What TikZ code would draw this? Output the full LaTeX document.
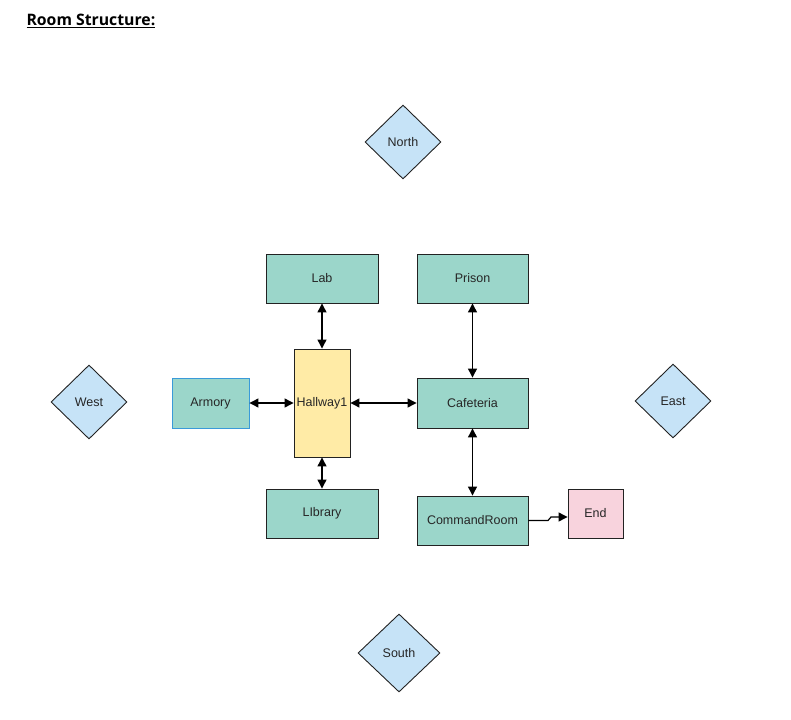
\documentclass[tikz,border=0pt]{standalone}
\usepackage{fontspec}
\setmainfont{Liberation Sans}
\newfontfamily\titlefont{Open Sans}
\usetikzlibrary{arrows.meta,shapes.geometric}
\definecolor{teal}{HTML}{9BD6CA}
\definecolor{yel}{HTML}{FFEBA6}
\definecolor{pinkc}{HTML}{F8D3DD}
\definecolor{skyc}{HTML}{C6E3F7}
\definecolor{bluec}{HTML}{3A9AD9}
\definecolor{edgec}{HTML}{222222}
\begin{document}
\begin{tikzpicture}[x=1pt,y=-1pt,
  room/.style={draw=edgec,line width=0.9pt,fill=teal,minimum width=112pt,minimum height=49pt,inner sep=0pt,font=\fontsize{12.5}{14}\selectfont,text=black!85},
  dir/.style={diamond,draw=edgec,line width=0.9pt,fill=skyc,minimum width=76pt,minimum height=74pt,inner sep=0pt,font=\fontsize{12.5}{14}\selectfont,text=black!85},
  link/.style={line width=1.2pt,{Triangle[width=9pt,length=9pt]}-{Triangle[width=9pt,length=9pt]}},
  onelink/.style={line width=1.2pt,-{Triangle[width=9pt,length=9pt]}}]
\useasboundingbox (0,0) rectangle (791,719);
\node[anchor=west,font=\titlefont\bfseries\fontsize{15.8}{17}\selectfont] (title) at (23,21) {\underline{Room Structure:}};
\node[dir] (north) at (403,142) {North};
\node[dir] (west) at (89,402) {West};
\node[dir] (east) at (673,401) {East};
\node[dir,minimum width=82pt,minimum height=78pt] (south) at (399,653) {South};
\node[room] (lab) at (322,278.5) {Lab};
\node[room,minimum width=111pt] (prison) at (472.5,278.5) {Prison};
\node[room,draw=bluec,minimum width=77pt,minimum height=50pt] (armory) at (210.5,403) {Armory};
\node[room,fill=yel,minimum width=56pt,minimum height=108pt] (hall) at (322,403) {Hallway1};
\node[room,minimum width=111pt,minimum height=50pt] (cafe) at (472.5,403) {Cafeteria};
\node[room] (lib) at (322,513.5) {LIbrary};
\node[room,minimum width=111pt] (cmd) at (472.5,520.5) {CommandRoom};
\node[room,fill=pinkc,minimum width=55pt] (endn) at (595.5,513.5) {End};
\draw[link] (lab) -- (hall);
\draw[link] (hall) -- (lib);
\draw[link] (armory) -- (hall);
\draw[link] (hall) -- (cafe);
\draw[link] (prison) -- (cafe);
\draw[link] (cafe) -- (cmd);
\coordinate (c1) at (548,520.5);
\coordinate (c2) at (551,517);
\draw[onelink] (cmd.east |- c1) -- (c1) -- (c2) -- (endn.west |- c2);
\end{tikzpicture}
\end{document}
